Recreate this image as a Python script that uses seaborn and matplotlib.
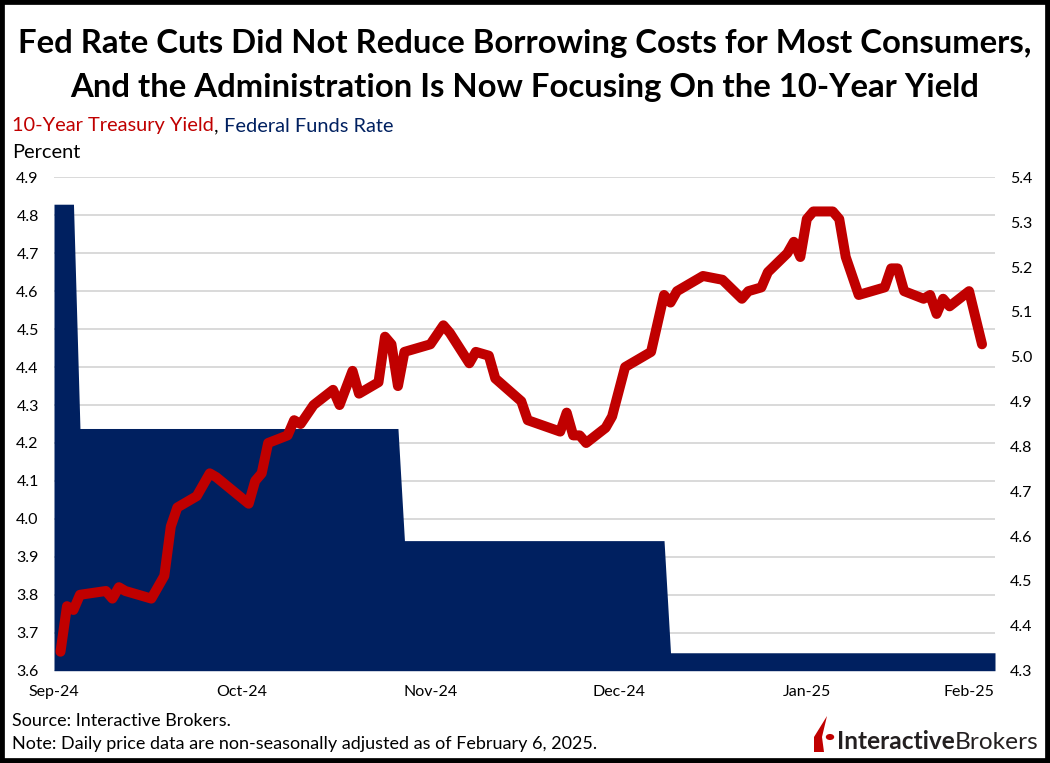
import numpy as np
import pandas as pd
import matplotlib
matplotlib.use("Agg")
import matplotlib.pyplot as plt
import seaborn as sns
from matplotlib.patches import Rectangle, Polygon, Circle

# ---------------- data ----------------
yield_dates = [
    "2024-09-16", "2024-09-17", "2024-09-18", "2024-09-19", "2024-09-23", "2024-09-24",
    "2024-09-25", "2024-09-26", "2024-09-30", "2024-10-01", "2024-10-02", "2024-10-03",
    "2024-10-04", "2024-10-07", "2024-10-09", "2024-10-10", "2024-10-15", "2024-10-16",
    "2024-10-17", "2024-10-18", "2024-10-21", "2024-10-22", "2024-10-23", "2024-10-25",
    "2024-10-28", "2024-10-29", "2024-10-31", "2024-11-01", "2024-11-04", "2024-11-05",
    "2024-11-06", "2024-11-07", "2024-11-08", "2024-11-12", "2024-11-14", "2024-11-15",
    "2024-11-18", "2024-11-19", "2024-11-21", "2024-11-22", "2024-11-26", "2024-11-27",
    "2024-12-02", "2024-12-03", "2024-12-04", "2024-12-05", "2024-12-06", "2024-12-09",
    "2024-12-10", "2024-12-12", "2024-12-13", "2024-12-16", "2024-12-18", "2024-12-19",
    "2024-12-20", "2024-12-24", "2024-12-27", "2024-12-30", "2024-12-31", "2025-01-02",
    "2025-01-03", "2025-01-06", "2025-01-07", "2025-01-08", "2025-01-09", "2025-01-10",
    "2025-01-13", "2025-01-14", "2025-01-15", "2025-01-17", "2025-01-21", "2025-01-22",
    "2025-01-23", "2025-01-24", "2025-01-27", "2025-01-28", "2025-01-29", "2025-01-30",
    "2025-01-31", "2025-02-03", "2025-02-05",
]
yield_values = [
    3.65, 3.77, 3.76, 3.80, 3.81, 3.79,
    3.82, 3.81, 3.79, 3.82, 3.85, 3.98,
    4.03, 4.06, 4.12, 4.11, 4.04, 4.10,
    4.12, 4.20, 4.22, 4.26, 4.25, 4.30,
    4.34, 4.30, 4.39, 4.33, 4.36, 4.48,
    4.46, 4.35, 4.44, 4.46, 4.51, 4.49,
    4.41, 4.44, 4.43, 4.37, 4.31, 4.26,
    4.23, 4.28, 4.22, 4.22, 4.20, 4.24,
    4.27, 4.40, 4.41, 4.44, 4.59, 4.57,
    4.60, 4.64, 4.63, 4.58, 4.60, 4.61,
    4.65, 4.70, 4.73, 4.69, 4.79, 4.81,
    4.81, 4.79, 4.69, 4.59, 4.61, 4.66,
    4.66, 4.60, 4.58, 4.59, 4.54, 4.58,
    4.56, 4.60, 4.46,
]

ff_dates = ["2024-09-15", "2024-09-18", "2024-09-19", "2024-11-07",
            "2024-11-08", "2024-12-18", "2024-12-19", "2025-02-07"]
ff_values = [5.34, 5.34, 4.84, 4.84, 4.59, 4.59, 4.34, 4.34]

xtick_dates = ["2024-09-15", "2024-10-14", "2024-11-12", "2024-12-11", "2025-01-09", "2025-02-03"]
xtick_labels = ["Sep-24", "Oct-24", "Nov-24", "Dec-24", "Jan-25", "Feb-25"]
left_ticks = [3.6, 3.7, 3.8, 3.9, 4.0, 4.1, 4.2, 4.3, 4.4, 4.5, 4.6, 4.7, 4.8, 4.9]
right_ticks = [4.3, 4.4, 4.5, 4.6, 4.7, 4.8, 4.9, 5.0, 5.1, 5.2, 5.3, 5.4]

title_lines = ["Fed Rate Cuts Did Not Reduce Borrowing Costs for Most Consumers,",
               "And the Administration Is Now Focusing On the 10-Year Yield"]
series_names = ["10-Year Treasury Yield", "Federal Funds Rate"]

RED = "#C00000"
NAVY = "#002060"
GRID = "#D9D9D9"

# ---------------- style ----------------
sns.set_theme(style="white")
plt.rcParams["font.family"] = ["Lato", "DejaVu Sans"]

W, H = 1050, 763
fig = plt.figure(figsize=(W / 100, H / 100), dpi=100)
fig.patch.set_facecolor("white")
fig.canvas.draw()
renderer = fig.canvas.get_renderer()


def fx(px):
    return px / W


def fy(py):
    return 1 - py / H


def fit_width(text_obj, target_px):
    w = text_obj.get_window_extent(renderer=renderer).width
    text_obj.set_fontsize(text_obj.get_fontsize() * target_px / w)


left_px, right_px, top_px, bottom_px = 54, 995, 177.3, 670.7
ax = fig.add_axes([fx(left_px), fy(bottom_px), fx(right_px - left_px), (bottom_px - top_px) / H])
ax_area = ax.twinx()
ax_line = ax.twinx()

yd = pd.to_datetime(yield_dates)
fd = pd.to_datetime(ff_dates)
df_y = pd.DataFrame({"date": yd, "value": yield_values})
df_f = pd.DataFrame({"date": fd, "value": ff_values})

xmin, xmax = pd.Timestamp("2024-09-15"), pd.Timestamp("2025-02-07")

# base axis: grid + left ticks + x labels
ax.set_ylim(3.6, 4.9)
ax.set_xlim(xmin, xmax)
ax.set_yticks(left_ticks)
ax.set_yticklabels([f"{v:.1f}" for v in left_ticks])
ax.set_xticks(pd.to_datetime(xtick_dates))
ax.set_xticklabels(xtick_labels)
ax.grid(axis="y", color=GRID, linewidth=1.4)
ax.grid(axis="x", visible=False)
ax.tick_params(axis="y", length=0, pad=11, labelsize=11.5, labelcolor="black")
ax.tick_params(axis="x", length=0, pad=10, labelsize=11.5, labelcolor="black")
for s in ax.spines.values():
    s.set_visible(False)

# area: federal funds rate (right axis)
ax_area.fill_between(df_f["date"], 4.3, df_f["value"], color=NAVY, linewidth=0)
ax_area.set_ylim(4.3, 5.4)
ax_area.set_xlim(xmin, xmax)
ax_area.set_yticks(right_ticks)
ax_area.set_yticklabels([f"{v:.1f}" for v in right_ticks])
ax_area.tick_params(axis="y", length=0, pad=11, labelsize=11.5, labelcolor="black")
for s in ax_area.spines.values():
    s.set_visible(False)

# line: 10-year yield (left scale)
sns.lineplot(data=df_y, x="date", y="value", ax=ax_line, color=RED, linewidth=7.2,
             solid_capstyle="round", solid_joinstyle="round")
ax_line.set_ylim(3.6, 4.9)
ax_line.set_xlim(xmin, xmax)
ax_line.set_yticks([])
ax_line.set_xlabel("")
ax_line.set_ylabel("")
for s in ax_line.spines.values():
    s.set_visible(False)
ax.set_xlabel("")
ax.set_ylabel("")
ax_area.set_ylabel("")

# ---------------- texts ----------------
tt1 = fig.text(0.5, fy(44), title_lines[0], ha="center", va="center", fontsize=24,
               fontweight="bold", color="black")
fit_width(tt1, 1016)
tt2 = fig.text(0.5, fy(87), title_lines[1], ha="center", va="center", fontsize=24,
               fontweight="bold", color="black")
tt2.set_fontsize(tt1.get_fontsize())

t1 = fig.text(fx(12), fy(126), series_names[0], ha="left", va="center", fontsize=14.4, color=RED)
t2 = ax.annotate(", ", xy=(1, 0), xycoords=t1, ha="left", va="bottom", fontsize=14.4,
                 color="black", annotation_clip=False)
t3 = ax.annotate(series_names[1], xy=(1, 0), xycoords=t2, ha="left", va="bottom",
                 fontsize=14.4, color=NAVY, annotation_clip=False)
fig.text(fx(12), fy(153), "Percent", ha="left", va="center", fontsize=14.4, color="black")

fig.text(fx(12), fy(721), "Source: Interactive Brokers.", ha="left", va="center",
         fontsize=13, color="black")
fig.text(fx(12), fy(744), "Note: Daily price data are non-seasonally adjusted as of February 6, 2025.",
         ha="left", va="center", fontsize=13, color="black")

# logo
l1 = fig.text(fx(837), fy(749), "Interactive", ha="left", va="baseline", fontsize=18,
              fontweight="bold", color="#231F20")
l2 = fig.text(fx(837), fy(749), "Brokers", ha="left", va="baseline", fontsize=18,
              color="#231F20")
w1 = l1.get_window_extent(renderer=renderer).width
w2 = l2.get_window_extent(renderer=renderer).width
scale = 201 / (w1 + w2)
l1.set_fontsize(18 * scale)
l2.set_fontsize(18 * scale)
l2.set_x(fx(837 + w1 * scale))

flame = Polygon([(fx(814), fy(752)), (fx(814), fy(737)), (fx(827), fy(716)),
                 (fx(822), fy(737)), (fx(824), fy(752))],
                closed=True, transform=fig.transFigure, facecolor=RED, edgecolor="none")
fig.patches.append(flame)
dot = Circle((fx(830), fy(737)), 4.2 / W, transform=fig.transFigure, facecolor=RED,
             edgecolor="none")
fig.patches.append(dot)

# frame
fig.patches.append(Rectangle((0, 0), 1, 1, transform=fig.transFigure, fill=False,
                             edgecolor="black", linewidth=7))

fig.savefig("out.png", dpi=100)
